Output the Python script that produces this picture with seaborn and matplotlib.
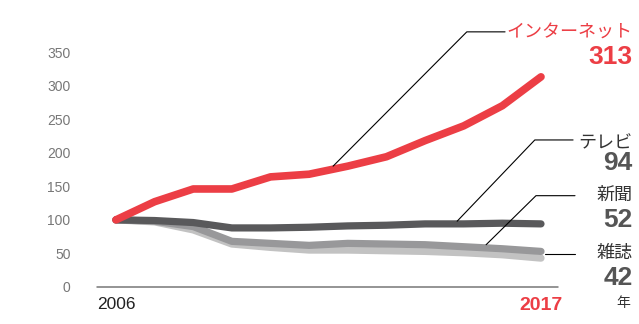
import numpy as np
import pandas as pd
import matplotlib
matplotlib.use("Agg")
import matplotlib.pyplot as plt
import seaborn as sns
from matplotlib import font_manager

years = list(range(2006, 2018))
internet = [100, 127, 146, 146, 164, 168, 180, 194, 218, 240, 270, 313]
tv = [100, 99, 96, 88, 88, 89, 91, 92, 94, 94, 95, 94]
newspaper = [100, 98, 90, 68, 65, 62, 65, 64, 63, 60, 57, 53]
magazine = [100, 97, 85, 64, 59, 55, 55, 54, 53, 51, 48, 43]
series_names = ["雑誌", "新聞", "テレビ", "インターネット"]
end_labels = ["42", "52", "94", "313"]
yticks = [0, 50, 100, 150, 200, 250, 300, 350]

colors = {"インターネット": "#EC3E45", "テレビ": "#59595B",
          "新聞": "#98989A", "雑誌": "#C2C2C2"}

sns.set_theme(style="white")
plt.rcParams['font.family'] = ['Liberation Sans', 'Noto Sans CJK JP', 'DejaVu Sans']

avail = {f.name for f in font_manager.fontManager.ttflist}
num_family = 'Liberation Sans Narrow' if 'Liberation Sans Narrow' in avail else 'Liberation Sans'

df = pd.DataFrame({
    "year": years * 4,
    "value": magazine + newspaper + tv + internet,
    "media": sum([[n] * len(years) for n in series_names], []),
})

fig = plt.figure(figsize=(6.39, 3.24), dpi=100)
ax = fig.add_axes([97/639, 1-287/324, 461/639, 235/324])

sns.lineplot(data=df, x="year", y="value", hue="media", hue_order=series_names,
             palette=colors, linewidth=5.2, ax=ax, legend=False,
             solid_capstyle="round", solid_joinstyle="round", zorder=3)
for ln in ax.lines:
    ln.set_clip_on(False)
ax.lines[-1].set_linewidth(5.5)
ax.axhline(0, color="#777777", lw=1.1, zorder=1, clip_on=False)

ax.set_xlim(2005.51, 2017.44)
ax.set_ylim(0, 350)
for s in ax.spines.values():
    s.set_visible(False)

ax.set_yticks(yticks)
ax.set_yticklabels([str(v) for v in yticks], color="#777777", fontsize=10)
ax.tick_params(axis="y", length=0, pad=19)
ax.set_xticks([2006, 2017])
ax.set_xticklabels(["2006", "2017"], fontsize=12.5)
ax.tick_params(axis="x", length=0, pad=7)
xl = ax.get_xticklabels()
xl[0].set_color("#222222")
xl[1].set_color("#EC3E45")
xl[1].set_fontweight("bold")
xl[1].set_family(num_family)
xl[1].set_fontsize(14)
ax.set_xlabel("")
ax.set_ylabel("")
ax.grid(False)

# leader lines (data coords)
lk = dict(color="black", lw=0.8, clip_on=False, zorder=5)
ax.plot([2011.62, 2015.08, 2016.07], [180, 380, 380], **lk)
ax.plot([2014.83, 2016.84, 2017.83], [98, 219, 219], **lk)
ax.plot([2015.58, 2016.87, 2017.88], [63, 136, 136], **lk)
ax.plot([2017.10, 2017.88], [49, 49], **lk)

cjk = ['Noto Sans CJK JP', 'DejaVu Sans']
fig.text(0.99, 1-33/324, "インターネット", ha="right", va="center",
         color="#EC3E45", fontsize=13, family=cjk)
fig.text(0.99, 1-57/324, end_labels[3], ha="right", va="center",
         color="#EC3E45", fontsize=19, fontweight="bold", family=num_family)
fig.text(0.99, 1-143/324, "テレビ", ha="right", va="center",
         color="#333333", fontsize=13, family=cjk)
fig.text(0.99, 1-163/324, end_labels[2], ha="right", va="center",
         color="#555555", fontsize=19, fontweight="bold", family=num_family)
fig.text(0.99, 1-195/324, "新聞", ha="right", va="center",
         color="#333333", fontsize=13, family=cjk)
fig.text(0.99, 1-220/324, end_labels[1], ha="right", va="center",
         color="#555555", fontsize=19, fontweight="bold", family=num_family)
fig.text(0.99, 1-253/324, "雑誌", ha="right", va="center",
         color="#333333", fontsize=13, family=cjk)
fig.text(0.99, 1-278/324, end_labels[0], ha="right", va="center",
         color="#555555", fontsize=19, fontweight="bold", family=num_family)
fig.text(623/639, 1-303/324, "年", ha="center", va="center",
         color="#333333", fontsize=10, family=cjk)

fig.savefig("out.png", dpi=100)
